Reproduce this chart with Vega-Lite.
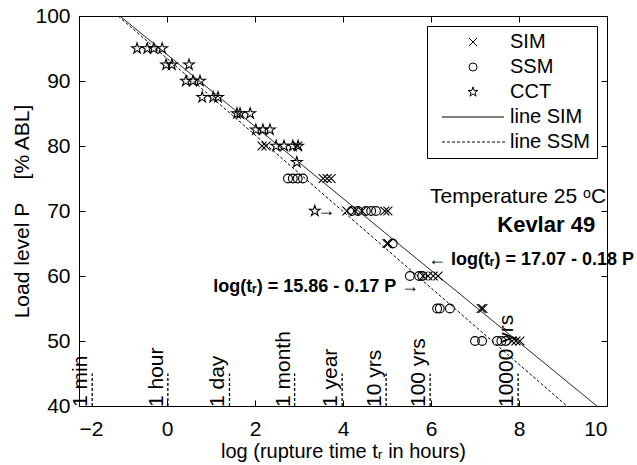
{
  "$schema": "https://vega.github.io/schema/vega-lite/v6.json",
  "width": 528,
  "height": 390,
  "autosize": {"type": "none"},
  "padding": {"left": 79, "top": 16, "right": 30, "bottom": 59},
  "background": "white",
  "config": {
    "font": "Liberation Sans",
    "view": {"stroke": "black", "strokeWidth": 1},
    "axis": {
      "grid": false, "domain": false, "tickColor": "black", "tickSize": -6, "tickWidth": 1,
      "labelFontSize": 21, "labelColor": "black", "labelFont": "Liberation Sans",
      "titleFontSize": 20, "titleFontWeight": "normal", "titleColor": "black", "titleFont": "Liberation Sans"
    },
    "legend": {
      "orient": "top-right", "offset": 10, "padding": 6, "strokeColor": "black", "fillColor": "white",
      "labelFontSize": 20, "labelFont": "Liberation Sans", "labelColor": "black", "rowPadding": 5,
      "labelOffset": 27, "symbolOffset": 30, "symbolSize": 64, "symbolStrokeColor": "black", "symbolStrokeWidth": 1
    }
  },
  "layer": [
    {
      "data": {"values": [
        {"s": "line SIM", "t": -1.07, "P": 100}, {"s": "line SIM", "t": 9.77, "P": 40},
        {"s": "line SSM", "t": -1.11, "P": 100}, {"s": "line SSM", "t": 9.09, "P": 40}
      ]},
      "mark": {"type": "line", "color": "black", "strokeWidth": 1, "clip": true},
      "encoding": {
        "x": {"field": "t", "type": "quantitative", "scale": {"domain": [-2, 10], "nice": false},
              "axis": {"orient": "top", "labels": false, "title": null, "values": [-2, 0, 2, 4, 6, 8, 10]}},
        "y": {"field": "P", "type": "quantitative", "scale": {"domain": [40, 100], "nice": false},
              "axis": {"orient": "right", "labels": false, "title": null, "values": [40, 50, 60, 70, 80, 90, 100]}},
        "strokeDash": {"field": "s", "type": "nominal", "scale": {"domain": ["line SIM", "line SSM"], "range": [[1, 0], [3, 2]]}, "legend": null},
        "detail": {"field": "s"}
      }
    },
    {
      "data": {"values": [
        {"label": "1 min", "t": -1.7, "y0": 40, "y1": 45},
        {"label": "1 hour", "t": 0.02, "y0": 40, "y1": 45},
        {"label": "1 day", "t": 1.42, "y0": 40, "y1": 45},
        {"label": "1 month", "t": 2.9, "y0": 40, "y1": 45},
        {"label": "1 year", "t": 3.98, "y0": 40, "y1": 45},
        {"label": "10 yrs", "t": 4.98, "y0": 40, "y1": 45},
        {"label": "100 yrs", "t": 5.98, "y0": 40, "y1": 45},
        {"label": "10000 yrs", "t": 7.98, "y0": 40, "y1": 45}
      ]},
      "layer": [
        {
          "mark": {"type": "rule", "color": "black", "strokeDash": [3, 2], "strokeWidth": 1.3},
          "encoding": {
            "x": {"field": "t", "type": "quantitative", "axis": null},
            "y": {"field": "y0", "type": "quantitative", "axis": null},
            "y2": {"field": "y1"}
          }
        },
        {
          "mark": {"type": "text", "angle": 270, "align": "left", "baseline": "bottom", "dx": -1, "dy": -1, "fontSize": 21, "font": "Liberation Sans", "color": "black"},
          "encoding": {
            "x": {"field": "t", "type": "quantitative", "axis": null},
            "y": {"field": "y0", "type": "quantitative", "axis": null},
            "text": {"field": "label"}
          }
        }
      ]
    },
    {
      "data": {"values": [
        {"s": "SIM", "t": 2.16, "P": 80}, {"s": "SIM", "t": 2.25, "P": 80}, {"s": "SIM", "t": 2.97, "P": 80},
        {"s": "SIM", "t": 3.55, "P": 75}, {"s": "SIM", "t": 3.64, "P": 75}, {"s": "SIM", "t": 3.73, "P": 75},
        {"s": "SIM", "t": 4.09, "P": 70}, {"s": "SIM", "t": 4.27, "P": 70}, {"s": "SIM", "t": 4.43, "P": 70}, {"s": "SIM", "t": 4.95, "P": 70}, {"s": "SIM", "t": 5.02, "P": 70},
        {"s": "SIM", "t": 5.0, "P": 65}, {"s": "SIM", "t": 5.03, "P": 65},
        {"s": "SIM", "t": 5.82, "P": 60}, {"s": "SIM", "t": 5.93, "P": 60}, {"s": "SIM", "t": 6.05, "P": 60}, {"s": "SIM", "t": 6.16, "P": 60},
        {"s": "SIM", "t": 7.14, "P": 55}, {"s": "SIM", "t": 7.18, "P": 55},
        {"s": "SIM", "t": 7.84, "P": 50}, {"s": "SIM", "t": 7.93, "P": 50}, {"s": "SIM", "t": 8.02, "P": 50},
        {"s": "SSM", "t": 2.75, "P": 75}, {"s": "SSM", "t": 2.86, "P": 75}, {"s": "SSM", "t": 2.97, "P": 75}, {"s": "SSM", "t": 3.09, "P": 75},
        {"s": "SSM", "t": 4.2, "P": 70}, {"s": "SSM", "t": 4.34, "P": 70}, {"s": "SSM", "t": 4.52, "P": 70}, {"s": "SSM", "t": 4.64, "P": 70}, {"s": "SSM", "t": 4.75, "P": 70},
        {"s": "SSM", "t": 5.13, "P": 65},
        {"s": "SSM", "t": 5.52, "P": 60}, {"s": "SSM", "t": 5.73, "P": 60}, {"s": "SSM", "t": 5.8, "P": 60},
        {"s": "SSM", "t": 6.14, "P": 55}, {"s": "SSM", "t": 6.2, "P": 55}, {"s": "SSM", "t": 6.43, "P": 55},
        {"s": "SSM", "t": 7.0, "P": 50}, {"s": "SSM", "t": 7.16, "P": 50}, {"s": "SSM", "t": 7.5, "P": 50}, {"s": "SSM", "t": 7.6, "P": 50}, {"s": "SSM", "t": 7.7, "P": 50},
        {"s": "CCT", "t": -0.68, "P": 95}, {"s": "CCT", "t": -0.45, "P": 95}, {"s": "CCT", "t": -0.3, "P": 95}, {"s": "CCT", "t": -0.11, "P": 95},
        {"s": "CCT", "t": -0.02, "P": 92.5}, {"s": "CCT", "t": 0.11, "P": 92.5}, {"s": "CCT", "t": 0.5, "P": 92.5},
        {"s": "CCT", "t": 0.43, "P": 90}, {"s": "CCT", "t": 0.59, "P": 90}, {"s": "CCT", "t": 0.75, "P": 90},
        {"s": "CCT", "t": 0.8, "P": 87.5}, {"s": "CCT", "t": 1.05, "P": 87.5}, {"s": "CCT", "t": 1.16, "P": 87.5},
        {"s": "CCT", "t": 1.59, "P": 85}, {"s": "CCT", "t": 1.66, "P": 85}, {"s": "CCT", "t": 1.89, "P": 85},
        {"s": "CCT", "t": 2.02, "P": 82.5}, {"s": "CCT", "t": 2.18, "P": 82.5}, {"s": "CCT", "t": 2.34, "P": 82.5},
        {"s": "CCT", "t": 2.48, "P": 80}, {"s": "CCT", "t": 2.66, "P": 80}, {"s": "CCT", "t": 2.86, "P": 80}, {"s": "CCT", "t": 2.98, "P": 80},
        {"s": "CCT", "t": 2.95, "P": 77.5},
        {"s": "CCT", "t": 3.36, "P": 70}
      ]},
      "mark": {"type": "point", "filled": false, "color": "black", "strokeWidth": 1.1, "opacity": 1},
      "encoding": {
        "x": {"field": "t", "type": "quantitative",
              "axis": {"orient": "bottom", "values": [-2, 0, 2, 4, 6, 8, 10], "labelPadding": 18, "titlePadding": 2, "title": "log (rupture time tᵣ in hours)"}},
        "y": {"field": "P", "type": "quantitative",
              "axis": {"orient": "left", "values": [40, 50, 60, 70, 80, 90, 100], "labelPadding": 15, "titlePadding": 2, "titleFontSize": 21, "title": "Load level P\u00a0\u00a0\u00a0\u00a0[% ABL]"}},
        "shape": {"field": "s", "type": "nominal",
                  "scale": {"domain": ["SIM", "SSM", "CCT", "line SIM", "line SSM"],
                            "range": ["M-1,-1L1,1M-1,1L1,-1", "circle", "M0,-1.3L0.29,-0.4L1.24,-0.4L0.47,0.15L0.76,1.05L0,0.5L-0.76,1.05L-0.47,0.15L-1.24,-0.4L-0.29,-0.4Z", "M-7.75,0L7.75,0", "M-7.75,0h0.75m0.5,0h0.75m0.5,0h0.75m0.5,0h0.75m0.5,0h0.75m0.5,0h0.75m0.5,0h0.75m0.5,0h0.75m0.5,0h0.75m0.5,0h0.75m0.5,0h0.75m0.5,0h0.75m0.5,0h0.75"]},
                  "legend": {"title": null}},
        "size": {"field": "s", "type": "nominal", "scale": {"domain": ["SIM", "SSM", "CCT"], "range": [80, 75, 115]}, "legend": null}
      }
    },
    {
      "data": {"values": [
        {"text": "Temperature 25 ᵒC", "t": 5.98, "P": 72.2}
      ]},
      "mark": {"type": "text", "align": "left", "baseline": "middle", "fontSize": 21, "font": "Liberation Sans", "color": "black"},
      "encoding": {
        "x": {"field": "t", "type": "quantitative", "axis": null},
        "y": {"field": "P", "type": "quantitative", "axis": null},
        "text": {"field": "text"}
      }
    },
    {
      "data": {"values": [
        {"text": "Kevlar 49", "t": 9.73, "P": 67.8}
      ]},
      "mark": {"type": "text", "align": "right", "baseline": "middle", "fontSize": 22, "fontWeight": "bold", "font": "Liberation Sans", "color": "black"},
      "encoding": {
        "x": {"field": "t", "type": "quantitative", "axis": null},
        "y": {"field": "P", "type": "quantitative", "axis": null},
        "text": {"field": "text"}
      }
    },
    {
      "data": {"values": [
        {"text": "← log(tᵣ) = 17.07 - 0.18 P", "t": 5.93, "P": 62.5},
        {"text": "log(tᵣ) = 15.86 - 0.17 P →", "t": 1.05, "P": 58.3}
      ]},
      "mark": {"type": "text", "align": "left", "baseline": "middle", "fontSize": 18, "fontWeight": "bold", "font": "Liberation Sans", "color": "black"},
      "encoding": {
        "x": {"field": "t", "type": "quantitative", "axis": null},
        "y": {"field": "P", "type": "quantitative", "axis": null},
        "text": {"field": "text"}
      }
    },
    {
      "data": {"values": [
        {"text": "→", "t": 3.62, "P": 70}
      ]},
      "mark": {"type": "text", "align": "center", "baseline": "middle", "fontSize": 18, "font": "Liberation Sans", "color": "black"},
      "encoding": {
        "x": {"field": "t", "type": "quantitative", "axis": null},
        "y": {"field": "P", "type": "quantitative", "axis": null},
        "text": {"field": "text"}
      }
    }
  ]
}
